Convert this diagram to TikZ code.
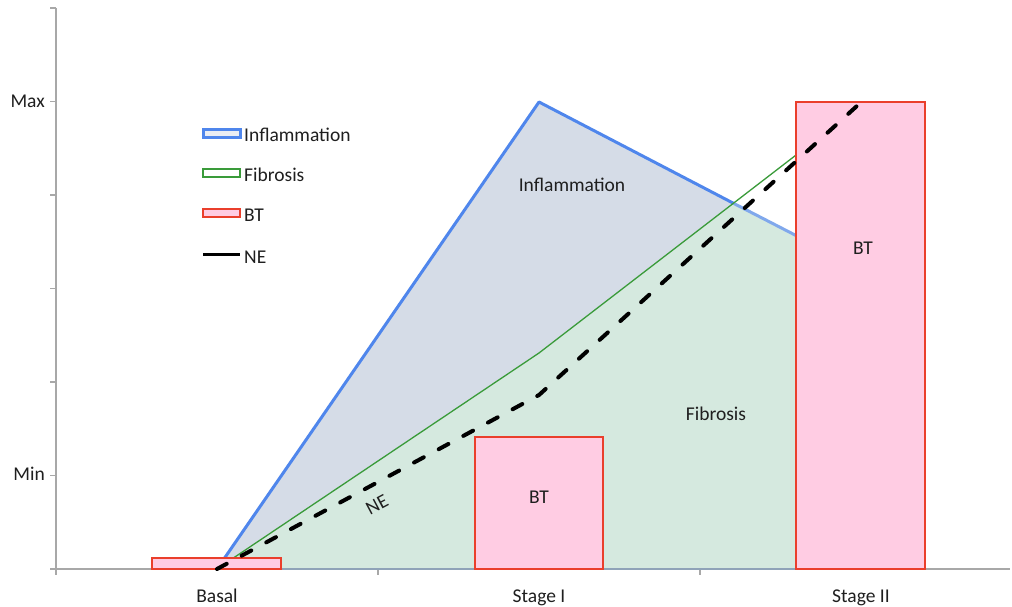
\documentclass[tikz,border=0pt]{standalone}
\usepackage{fontspec}
\setmainfont{Carlito}
\definecolor{axisgray}{HTML}{A8A8A8}
\definecolor{inflfill}{HTML}{D5DCE7}
\definecolor{fibfill}{HTML}{D5E9DF}
\definecolor{inflline}{HTML}{4F86EC}
\definecolor{infllight}{HTML}{80A8EC}
\definecolor{fibline}{HTML}{3A9B3A}
\definecolor{btfill}{HTML}{FFCCE3}
\definecolor{btline}{HTML}{EA3F2C}
\definecolor{basegray}{HTML}{8FA3B8}
\begin{document}
\begin{tikzpicture}[x=1pt,y=-1pt,
  lbl/.style={font=\fontsize{19.5}{23}\selectfont, text=black!88, inner sep=0pt},
  axisline/.style={axisgray, line width=1.5pt},
  btbar/.style={draw=btline, fill=btfill, line width=1.8pt},
  inflstroke/.style={inflline, line width=3pt, line join=round},
  fibstroke/.style={fibline, line width=1.3pt, line join=round},
  nestroke/.style={black, line width=4pt, line cap=round, dash pattern=on 11pt off 17pt}]
\useasboundingbox (0,0) rectangle (1012,607);
\fill[white] (0,0) rectangle (1012,607);
% data points
\coordinate (b0) at (217,569);
\coordinate (iS1) at (539,102);
\coordinate (iS2) at (861,269);
\coordinate (fS1) at (539,353);
\coordinate (fS2) at (861,105);
\coordinate (nS1) at (539,395);
\coordinate (nS2) at (858,105);
\coordinate (e2) at (861,569);
\coordinate (cross) at (733.5,203.3);
% areas
\fill[inflfill] (b0) -- (iS1) -- (iS2) -- (e2) -- cycle;
\begin{scope}
  \clip (b0) -- (iS1) -- (iS2) -- (e2) -- cycle;
  \fill[fibfill] (b0) -- (fS1) -- (fS2) -- (e2) -- cycle;
\end{scope}
% axes
\draw[axisline] (56,8) -- (56,569) -- (1010,569);
\foreach \yy in {8,101.5,195,288.5,382,475.5,569} \draw[axisline] (50,\yy) -- (56,\yy);
\foreach \xx in {56,378,700} \draw[axisline] (\xx,569) -- (\xx,575);
\draw[basegray, line width=1.5pt] (b0) -- (e2);
% lines
\draw[inflstroke] (b0) -- (iS1) -- (cross);
\draw[infllight, line width=3pt] (cross) -- (iS2);
\draw[fibstroke] (b0) -- (fS1) -- (fS2);
% bars
\draw[btbar] (152,558) rectangle (281,569);
\draw[btbar] (475,437) rectangle (603,569);
\draw[btbar] (796,102) rectangle (925,569);
% NE
\draw[nestroke] (b0) -- (nS1) -- (nS2);
% labels
\node[lbl, anchor=base east] (max) at (45,107.5) {Max};
\node[lbl, anchor=base east] (min) at (45,480.5) {Min};
\node[lbl, anchor=base] (basal) at (217,602) {Basal};
\node[lbl, anchor=base] (st1) at (539,602) {Stage I};
\node[lbl, anchor=base] (st2) at (861,602) {Stage II};
\node[lbl] (linfl) at (572,185) {Inflammation};
\node[lbl] (lfib) at (716,414) {Fibrosis};
\node[lbl, rotate=28] (lne) at (377,505) {NE};
\node[lbl] (bt1) at (539,497) {BT};
\node[lbl] (bt2) at (863,248) {BT};
% legend
\draw[inflline, line width=3pt, fill=inflfill!50!white] (203,130) rectangle (240,138);
\node[lbl, anchor=base west] (lgi) at (244,141.5) {Inflammation};
\draw[fibline, line width=1.2pt, fill=white] (203,169) rectangle (240,177);
\node[lbl, anchor=base west] (lgf) at (244,181.5) {Fibrosis};
\draw[btline, line width=2pt, fill=btfill] (203,209) rectangle (240,217);
\node[lbl, anchor=base west] (lgb) at (244,221.5) {BT};
\draw[black, line width=3pt] (203,254) -- (240,254);
\node[lbl, anchor=base west] (lgn) at (244,263) {NE};
\end{tikzpicture}
\end{document}
